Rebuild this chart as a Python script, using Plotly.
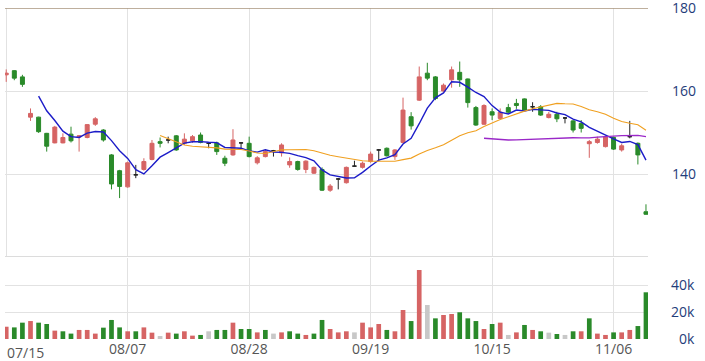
import plotly.graph_objects as go

tick_labels = ["07/15", "08/07", "08/28", "09/19", "10/15", "11/06"]
tick_pos = [0, 15, 30, 45, 60, 75]

open_ = [163.9, 164.9, 163.4, 153.7, 153.7, 149.8, 147.5, 147.5, 149.6, 148.9,
         148.8, 152.0, 150.6, 144.6, 140.8, 136.9, 139.8, 141.1, 143.5, 147.8,
         148.2, 149.2, 147.4, 148.0, 149.4, 147.4, 147.5, 143.8, 144.6, 147.5,
         147.4, 142.7, 144.2, 145.6, 145.1, 142.2, 143.0, 141.1, 140.2, 141.1,
         136.1, 138.8, 137.9, 141.9, 141.6, 143.0, 145.8, 146.2, 144.2, 147.6,
         153.8, 157.8, 164.3, 163.4, 160.0, 162.7, 164.5, 162.9, 156.0, 152.0,
         155.0, 153.4, 156.0, 157.0, 158.1, 156.2, 156.2, 153.6, 154.4, 153.5,
         152.8, 152.2, 147.3, 147.6, 146.6, 148.8, 145.8, 149.0, 147.4, 130.9]
high = [165.2, 165.0, 163.9, 155.8, 153.8, 149.9, 151.6, 149.8, 151.4, 149.4,
        152.0, 153.7, 150.8, 144.8, 141.0, 143.0, 142.2, 143.8, 148.2, 148.8,
        149.0, 149.4, 149.8, 149.4, 150.0, 147.6, 147.8, 144.4, 150.8, 147.6,
        149.0, 144.3, 146.0, 145.8, 147.4, 144.0, 143.2, 143.3, 141.8, 141.6,
        137.6, 139.0, 141.8, 143.2, 143.0, 145.4, 146.0, 146.4, 146.0, 158.4,
        154.9, 165.9, 166.8, 163.6, 161.8, 165.9, 167.1, 163.0, 156.4, 156.8,
        155.8, 155.8, 156.9, 158.1, 158.2, 157.3, 156.6, 155.0, 155.0, 153.7,
        153.0, 153.0, 148.2, 149.0, 149.2, 149.0, 147.3, 152.8, 147.6, 132.7]
low = [162.2, 162.6, 161.0, 152.8, 149.9, 145.4, 147.4, 147.4, 147.6, 145.4,
       148.6, 151.6, 147.8, 136.3, 134.2, 136.7, 139.0, 140.8, 143.3, 146.4,
       147.4, 145.6, 147.0, 147.5, 147.4, 146.2, 144.6, 141.9, 144.4, 146.2,
       144.0, 142.3, 144.0, 144.2, 144.2, 141.5, 140.8, 140.2, 140.0, 135.9,
       135.7, 136.3, 137.7, 141.9, 141.3, 142.7, 143.1, 144.2, 143.4, 147.4,
       150.7, 157.6, 162.6, 157.8, 159.8, 160.8, 161.0, 156.0, 151.6, 151.8,
       153.0, 153.2, 154.7, 155.7, 155.2, 155.0, 154.0, 153.4, 152.5, 152.2,
       150.0, 150.0, 143.9, 147.3, 146.4, 145.8, 145.4, 148.6, 142.3, 130.2]
close = [164.3, 163.1, 161.6, 154.6, 150.2, 146.7, 151.3, 148.8, 148.0, 149.2,
         151.9, 153.3, 148.2, 137.6, 137.0, 142.7, 139.8, 143.0, 147.4, 147.4,
         148.2, 145.8, 148.4, 149.0, 147.6, 147.4, 145.4, 142.6, 148.2, 147.5,
         144.2, 143.9, 145.4, 145.6, 147.0, 143.0, 141.1, 143.1, 141.6, 136.1,
         137.1, 138.8, 141.6, 141.9, 142.6, 144.8, 145.8, 144.4, 145.8, 155.4,
         151.6, 163.4, 163.1, 158.2, 161.4, 165.1, 162.7, 157.2, 151.8, 156.5,
         154.2, 154.9, 154.9, 156.5, 155.4, 156.2, 154.2, 154.4, 153.3, 153.5,
         150.6, 151.0, 147.8, 148.4, 149.0, 146.0, 146.8, 149.0, 144.6, 130.3]
volume_k = [9.1, 8.6, 12.1, 13.3, 12.1, 11.1, 6.2, 5.7, 4.0, 6.7,
            6.7, 4.0, 8.4, 14.1, 8.6, 5.7, 5.7, 8.6, 4.7, 2.2,
            4.7, 4.0, 5.7, 2.5, 3.0, 5.7, 6.7, 6.7, 12.1, 7.4,
            7.4, 4.9, 6.7, 4.0, 4.9, 5.7, 4.0, 3.0, 4.0, 14.1,
            7.4, 4.9, 5.7, 4.9, 12.1, 8.6, 11.1, 6.7, 5.7, 21.5,
            13.3, 51.1, 25.2, 15.3, 17.8, 18.5, 19.8, 15.3, 13.3, 7.4,
            11.1, 12.1, 3.0, 4.9, 10.4, 6.7, 5.7, 4.7, 3.7, 3.0,
            5.7, 5.7, 15.3, 4.0, 3.0, 4.9, 4.9, 6.7, 9.6, 34.6]
volume_dir = list("rggrggrggrrrgggrgrrnrgrrgnggrggrgnrggrggrrrnrrrgrrgrngrrgggrgrnrgrgngngrgrrgrrgg")

price_ticks = [140, 160, 180]
vol_ticks = [0, 20000, 40000]
vol_tick_text = ["\u20070k", "20k", "40k"]

RED = "#d66464"
GREEN = "#2a8a2a"
DOJI = "#222222"
GRAY = "#c8c8c8"

n = len(close)
idx = list(range(n))


def ma(vals, k):
    xs, ys = [], []
    for i in range(k - 1, len(vals)):
        xs.append(i)
        ys.append(sum(vals[i - k + 1:i + 1]) / k)
    return xs, ys


fig = go.Figure()


def add_candles(sel, color):
    fig.add_trace(go.Candlestick(
        x=[idx[i] for i in sel], open=[open_[i] for i in sel],
        high=[high[i] for i in sel], low=[low[i] for i in sel],
        close=[close[i] for i in sel],
        increasing=dict(line=dict(color=color, width=1), fillcolor=color),
        decreasing=dict(line=dict(color=color, width=1), fillcolor=color),
        whiskerwidth=0, xaxis="x", yaxis="y", showlegend=False, hoverinfo="skip"))


up = [i for i in idx if close[i] > open_[i]]
down = [i for i in idx if close[i] < open_[i]]
doji = [i for i in idx if close[i] == open_[i]]
add_candles(up, RED)
add_candles(down, GREEN)
add_candles(doji, DOJI)

for k, col, w in [(5, "#1c1cc8", 1.4), (20, "#f0a020", 1.1), (60, "#9a28c8", 1.4)]:
    mx, my = ma(close, k)
    fig.add_trace(go.Scatter(x=mx, y=my, mode="lines", line=dict(color=col, width=w),
                             xaxis="x", yaxis="y", showlegend=False, hoverinfo="skip"))

vcol = {"r": RED, "g": GREEN, "n": GRAY}
fig.add_trace(go.Bar(x=idx, y=[v * 1000 for v in volume_k],
                     marker=dict(color=[vcol[d] for d in volume_dir], line=dict(width=0)),
                     xaxis="x2", yaxis="y2", showlegend=False, hoverinfo="skip"))

xr = [-0.15, 79.25]
grid = "#e2e2e2"
FONT = "Open Sans, DejaVu Sans, sans-serif"
tickfont = dict(family=FONT, size=14, color="#1f3d7a")

fig.update_layout(
    width=705, height=361,
    margin=dict(l=5, r=57, t=8, b=22, autoexpand=False),
    paper_bgcolor="white", plot_bgcolor="white",
    boxgap=0.3, bargap=0.42,
    xaxis=dict(range=xr, domain=[0, 1], tickvals=tick_pos, showticklabels=False,
               showgrid=True, gridcolor=grid, gridwidth=1, zeroline=False,
               rangeslider=dict(visible=False), anchor="y", fixedrange=True),
    xaxis2=dict(range=xr, domain=[0, 1], tickvals=tick_pos[1:], ticktext=tick_labels[1:],
                showgrid=True, gridcolor=grid, gridwidth=1, zeroline=False, anchor="y2",
                ticks="", ticklabeloverflow="allow",
                tickfont=dict(family=FONT, size=14, color="#555555")),
    yaxis=dict(domain=[0.2477, 1], range=[120, 180], side="right", tickvals=price_ticks,
               showgrid=True, gridcolor=grid, zeroline=False, ticks="", tickfont=tickfont,
               ticklabelstandoff=23, ticklabeloverflow="allow", anchor="x"),
    yaxis2=dict(domain=[0, 0.2447], range=[0, 60000], side="right",
                tickvals=vol_ticks, ticktext=vol_tick_text,
                showgrid=True, gridcolor=grid, zeroline=False, ticks="", tickfont=tickfont,
                ticklabelstandoff=22, ticklabeloverflow="allow", anchor="x2"),
    shapes=[
        dict(type="line", xref="paper", yref="y", x0=0, x1=1, y0=180, y1=180,
             line=dict(color="#a8957c", width=1.5)),
        dict(type="line", xref="paper", yref="y", x0=0, x1=1, y0=120, y1=120,
             line=dict(color="#dcdcdc", width=2)),
    ],
    annotations=[dict(text=tick_labels[0], x=xr[0], xref="x2", y=0, yref="paper",
                      xanchor="left", yanchor="top", yshift=-2, showarrow=False,
                      font=dict(family=FONT, size=14, color="#555555"))],
)

fig.write_html("out.html", config={"displayModeBar": False},
               post_script="document.body.style.margin='0';document.body.style.overflow='hidden';")
